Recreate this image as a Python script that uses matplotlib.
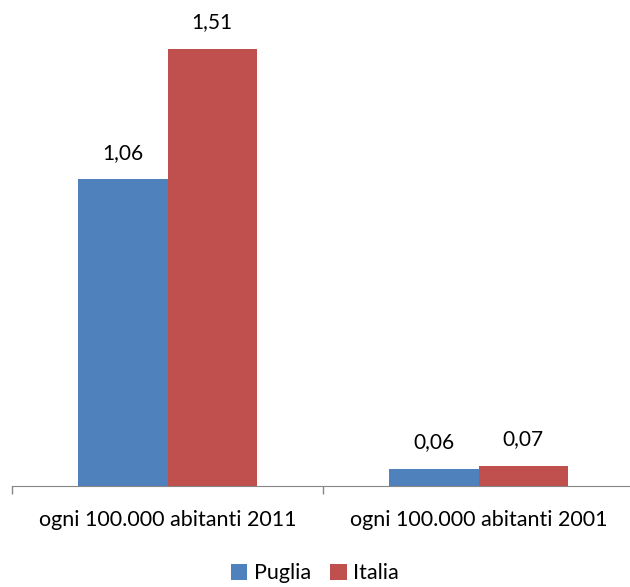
import matplotlib.pyplot as plt
import numpy as np

plt.rcParams['font.family'] = ['Lato', 'DejaVu Sans']

categories = ["ogni 100.000 abitanti 2011", "ogni 100.000 abitanti 2001"]
puglia = [1.06, 0.06]
italia = [1.51, 0.07]
series_names = ["Puglia", "Italia"]
colors = ["#4F81BD", "#C0504D"]

fig = plt.figure(figsize=(6.3, 5.87), dpi=100)
ax = fig.add_axes([12 / 630, 101 / 587, 622 / 630, 486 / 587])

x = np.arange(len(categories))
w = 0.287
bars1 = ax.bar(x - w / 2, puglia, w, color=colors[0], label=series_names[0])
bars2 = ax.bar(x + w / 2, italia, w, color=colors[1], label=series_names[1])

def fmt(v):
    return f"{v:.2f}".replace(".", ",")

for bars, vals in [(bars1, puglia), (bars2, italia)]:
    for b, v in zip(bars, vals):
        ax.annotate(fmt(v), (b.get_x() + b.get_width() / 2, v),
                    xytext=(0, 12), textcoords="offset points",
                    ha="center", va="bottom", fontsize=15)

ax.set_xlim(-0.5, 1.5)
ax.set_ylim(0, 1.68)
ax.set_xticks([-0.5, 0.5, 1.5])
ax.set_xticklabels([])
ax.set_xticks(x, minor=True)
ax.set_xticklabels(categories, minor=True, fontsize=15.5)
ax.tick_params(axis="x", which="major", length=6, color="#868686", width=1)
ax.tick_params(axis="x", which="minor", length=0, pad=17)
ax.set_yticks([])
for s in ["top", "right", "left"]:
    ax.spines[s].set_visible(False)
ax.spines["bottom"].set_color("#868686")

fig.legend(loc="lower center", bbox_to_anchor=(0.5, -0.027), ncol=2, frameon=False,
           fontsize=15.5, handlelength=0.75, handleheight=0.75, handletextpad=0.3,
           columnspacing=0.9)

fig.savefig("out.png", dpi=100)
